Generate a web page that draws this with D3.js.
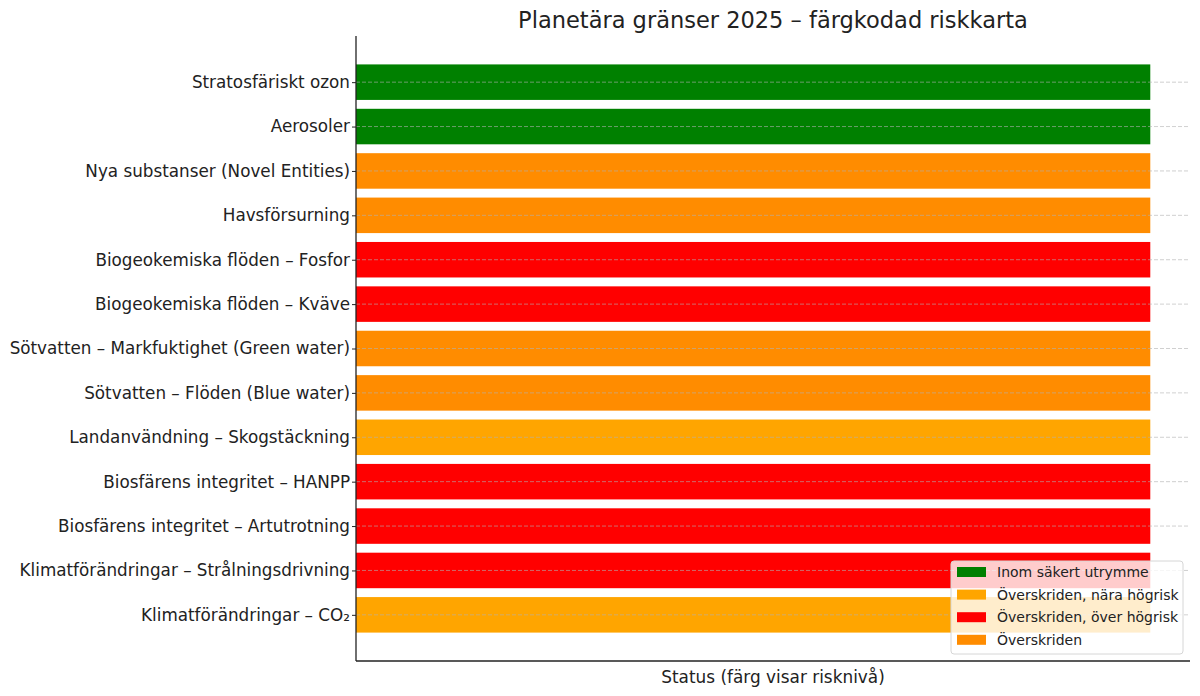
<!DOCTYPE html>
<html>
<head>
<meta charset="utf-8">
<script src="https://cdn.jsdelivr.net/npm/d3@7"></script>
<style>
  body { margin: 0; background: #fff; }
  svg text { font-family: "DejaVu Sans", sans-serif; fill: #222; }
</style>
</head>
<body>
<div id="chart"></div>
<script>
// boundaries, top to bottom
const categories = [
  "Stratosfäriskt ozon",
  "Aerosoler",
  "Nya substanser (Novel Entities)",
  "Havsförsurning",
  "Biogeokemiska flöden – Fosfor",
  "Biogeokemiska flöden – Kväve",
  "Sötvatten – Markfuktighet (Green water)",
  "Sötvatten – Flöden (Blue water)",
  "Landanvändning – Skogstäckning",
  "Biosfärens integritet – HANPP",
  "Biosfärens integritet – Artutrotning",
  "Klimatförändringar – Strålningsdrivning",
  "Klimatförändringar – CO₂"
]
const values = [1, 1, 1, 1, 1, 1, 1, 1, 1, 1, 1, 1, 1]
const status = ["safe", "safe", "over", "over", "high", "high", "over", "over", "near", "high", "high", "high", "near"]

const statusKeys = ["safe", "near", "high", "over"]
const statusLabels = ["Inom säkert utrymme", "Överskriden, nära högrisk", "Överskriden, över högrisk", "Överskriden"]
const statusColors = ["#008000", "#FFA500", "#FF0000", "#FF8C00"]

const w = 1200
const h = 696
const margin = { top: 36, right: 10, bottom: 35, left: 356 }
const iw = w - margin.left - margin.right
const ih = h - margin.top - margin.bottom

const color = d3.scaleOrdinal().domain(statusKeys).range(statusColors)

const svg = d3.select('#chart')
  .append('svg')
  .attr('width', w)
  .attr('height', h)

const g = svg.append('g')
  .attr('transform', `translate(${margin.left},${margin.top})`)

const x = d3.scaleLinear().domain([0, 1.05]).range([0, iw])
// matplotlib style: bar height 0.8, 5% margins
const y = d3.scaleLinear().domain([-1.04, categories.length - 1 + 1.04]).range([0, ih])
const barH = y(0.8) - y(0)

g.selectAll('rect.bar')
  .data(categories)
  .enter()
  .append('rect')
  .attr('class', 'bar')
  .attr('x', x(0))
  .attr('y', (d, i) => y(i - 0.4))
  .attr('width', (d, i) => x(values[i]) - x(0))
  .attr('height', barH)
  .attr('fill', (d, i) => color(status[i]))

// dashed grid on top of bars
g.selectAll('line.grid')
  .data(categories)
  .enter()
  .append('line')
  .attr('class', 'grid')
  .attr('x1', 0)
  .attr('x2', iw)
  .attr('y1', (d, i) => y(i))
  .attr('y2', (d, i) => y(i))
  .attr('stroke', '#b0b0b0')
  .attr('stroke-opacity', 0.6)
  .attr('stroke-width', 1)
  .attr('stroke-dasharray', '4,2')

const yAxis = d3.axisLeft(y)
  .tickValues(d3.range(categories.length))
  .tickFormat(i => categories[i])
  .tickSize(4)
  .tickSizeOuter(0)
  .tickPadding(2)

const ya = g.append('g').call(yAxis)
ya.select('.domain').remove()
ya.selectAll('text').style('font-size', '16.8px')
ya.selectAll('line').attr('stroke', '#222')

// spines
g.append('line').attr('x1', 0).attr('x2', 0).attr('y1', 0).attr('y2', ih)
  .attr('stroke', '#222').attr('stroke-width', 1.3)
g.append('line').attr('x1', 0).attr('x2', iw).attr('y1', ih).attr('y2', ih)
  .attr('stroke', '#222').attr('stroke-width', 1.3)

svg.append('text')
  .attr('x', margin.left + iw / 2)
  .attr('y', 28)
  .attr('text-anchor', 'middle')
  .style('font-size', '22.5px')
  .text('Planetära gränser 2025 – färgkodad riskkarta')

svg.append('text')
  .attr('x', margin.left + iw / 2)
  .attr('y', 683)
  .attr('text-anchor', 'middle')
  .style('font-size', '16.9px')
  .text('Status (färg visar risknivå)')

// legend, bottom right
const legend = svg.append('g')
  .attr('transform', 'translate(951,561)')

legend.append('rect')
  .attr('width', 232)
  .attr('height', 93)
  .attr('rx', 3)
  .attr('fill', 'white')
  .attr('fill-opacity', 0.8)
  .attr('stroke', '#d6d6d6')

const item = legend.selectAll('g.item')
  .data(statusKeys)
  .enter()
  .append('g')
  .attr('class', 'item')
  .attr('transform', (d, i) => `translate(6,${11 + i * 22.6})`)

item.append('rect')
  .attr('y', -5)
  .attr('width', 29)
  .attr('height', 10)
  .attr('fill', d => color(d))

item.append('text')
  .attr('x', 40)
  .attr('dy', '0.35em')
  .style('font-size', '14px')
  .text((d, i) => statusLabels[i])
</script>
</body>
</html>
